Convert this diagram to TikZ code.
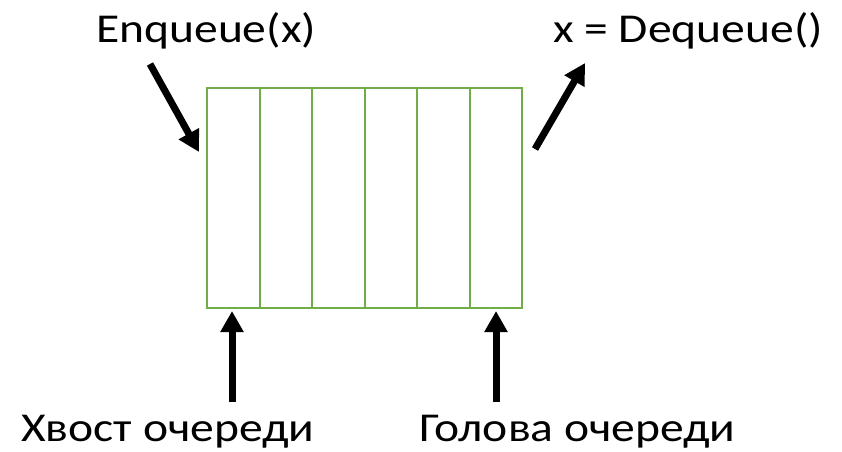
\documentclass[tikz,border=0pt]{standalone}
\usepackage{fontspec}
\setmainfont{Carlito}[FakeStretch=1.16]
\usetikzlibrary{arrows.meta}
\definecolor{cellgreen}{RGB}{112,173,71}
\tikzset{
  cell/.style={draw=cellgreen, line width=2pt, minimum width=52.5pt, minimum height=220pt, inner sep=0pt, outer sep=0pt},
  lbl/.style={font=\fontsize{41pt}{47pt}\selectfont, inner sep=0pt, anchor=base west},
  pointer/.style={line width=7pt, -{Triangle[length=21pt,width=22pt]}}
}
\begin{document}
\begin{tikzpicture}[x=1pt,y=-1pt]
\useasboundingbox (0,0) rectangle (842,451);
% queue cells, left to right
\foreach \i in {1,...,6}{
  \node[cell] (c\i) at ({207+52.5*(\i-0.5)},198) {};
}
% labels
\node[lbl] (enq) at (96,42) {Enqueue(x)};
\node[lbl] (deq) at (553,42) {x = Dequeue()};
\node[lbl] (tail) at (21,441) {Хвост очереди};
\node[lbl] (head) at (419,441) {Голова очереди};
% pointer end points
\coordinate (enqA) at (150,64);
\coordinate (enqB) at (199,152);
\coordinate (deqA) at (535,149);
\coordinate (deqB) at (585,63);
\coordinate (tailA) at (232,402);
\coordinate (tailB) at (232,311);
\coordinate (headA) at (496,402);
\coordinate (headB) at (496,311);
\draw[pointer] (enqA) -- (enqB);
\draw[pointer] (deqA) -- (deqB);
\draw[pointer] (tailA) -- (tailB);
\draw[pointer] (headA) -- (headB);
\end{tikzpicture}
\end{document}
